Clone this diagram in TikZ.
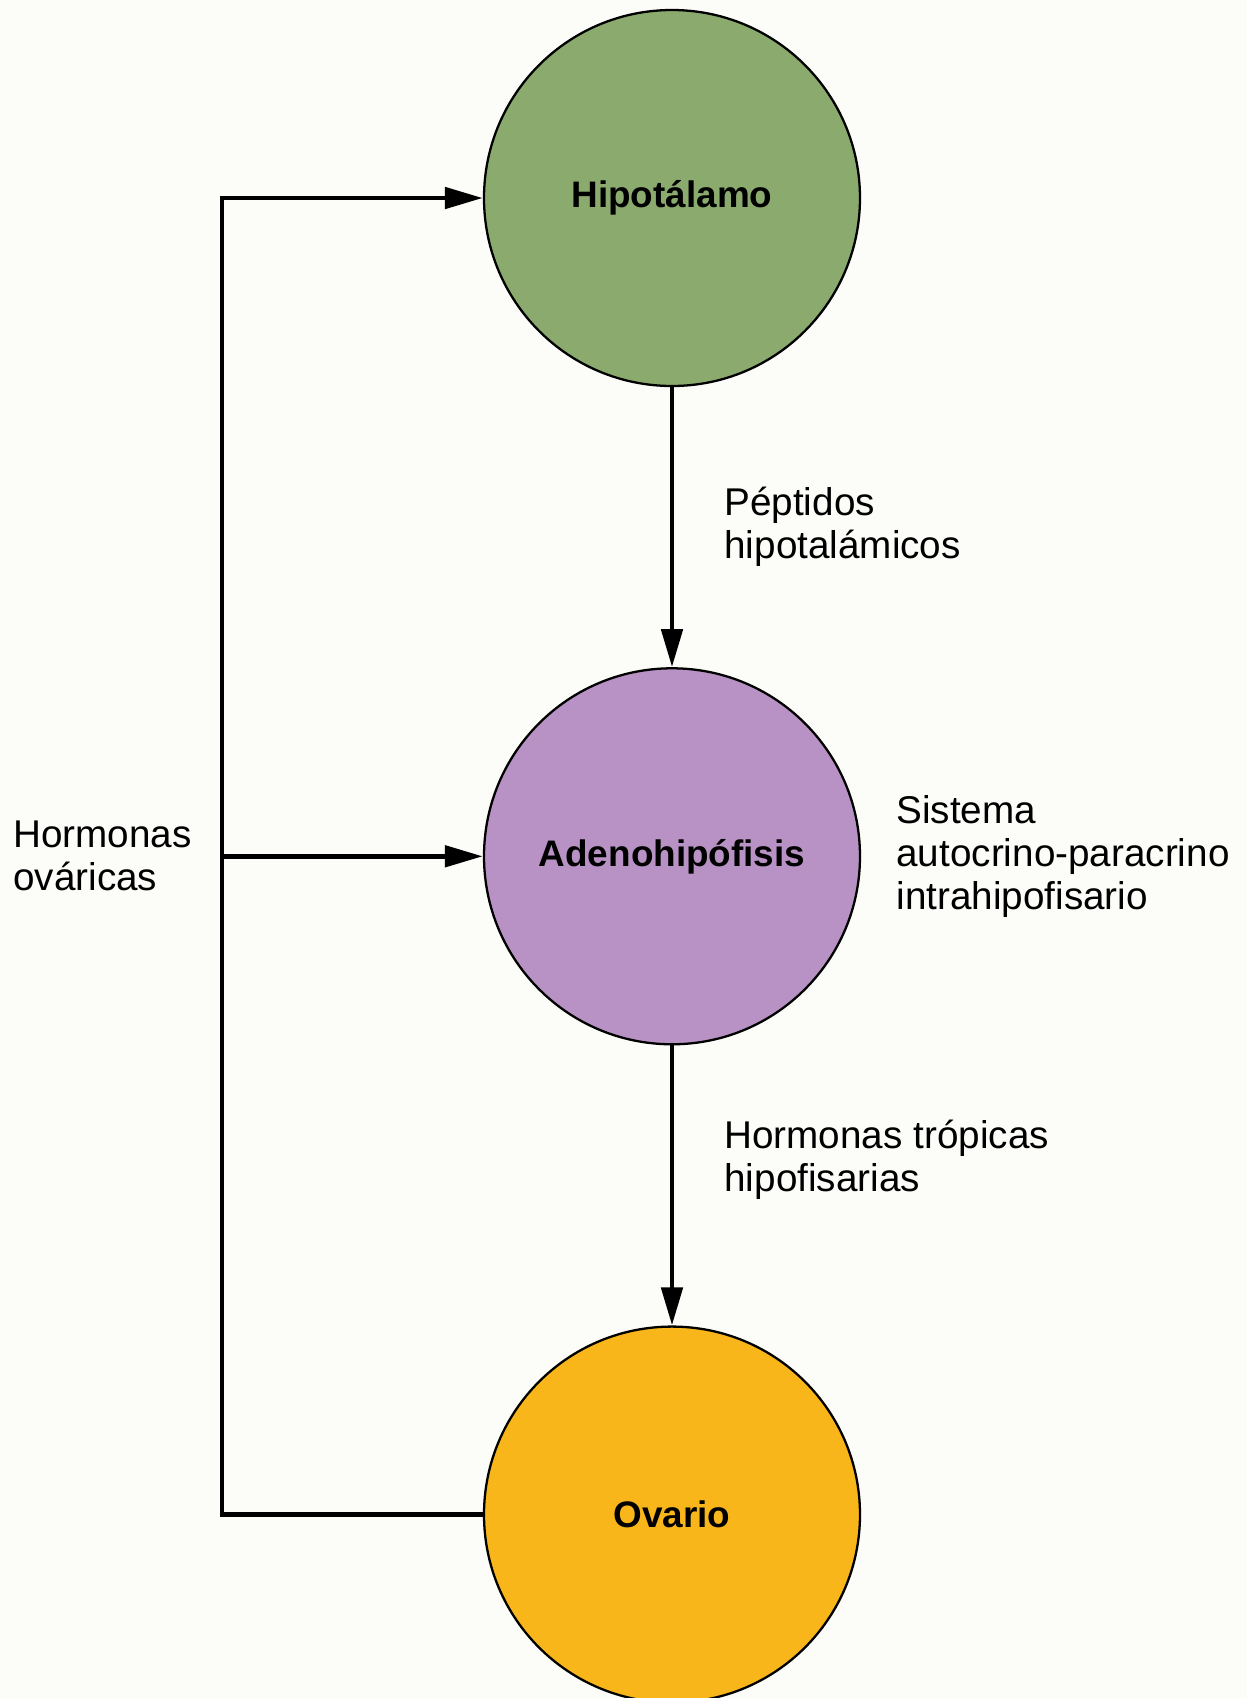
\documentclass[tikz,border=0pt]{standalone}
\usepackage{fontspec}
\setmainfont{Liberation Sans}
\usepackage{xcolor}
\usetikzlibrary{arrows.meta, positioning}

\definecolor{hipgreen}{RGB}{139,170,110}
\definecolor{adenopurple}{RGB}{184,146,196}
\definecolor{ovaorange}{RGB}{248,182,26}
\definecolor{paper}{RGB}{252,252,249}

\begin{document}
\begin{tikzpicture}[
      font=\fontsize{22}{24.5}\selectfont,
      node distance=5.6cm,
      >={Triangle[length=7.6mm, width=4.2mm]},
      organ/.style={
        circle,
        draw,
        line width=1.3pt,
        minimum size=7.52cm,
        inner sep=0pt,
        font=\fontsize{21}{24}\selectfont\bfseries
      },
      lbl/.style={align=left, inner sep=0pt},
      link/.style={line width=2.8pt}
    ]
    \useasboundingbox (0,0) rectangle (24.94,-33.96);
    \fill[paper] (0,0) rectangle (24.94,-33.96);
    \node[organ, fill=hipgreen] (hip) at (13.44,-3.96) {Hipotálamo};
    \node[organ, fill=adenopurple, below=of hip] (adeno) {Adenohipófisis};
    \node[organ, fill=ovaorange, below=of adeno] (ova) {Ovario};
    \coordinate (fbx) at (4.44,0);
    \coordinate (lft) at (0.26,0);
    \node[lbl, right=7mm of adeno] (paracr) {Sistema\\autocrino-paracrino\\intrahipofisario};
    \node[lbl, anchor=west] (ovh) at (adeno.west -| lft) {Hormonas\\ováricas};
    \draw[link, ->] (hip) -- node[lbl, right=10mm] {Péptidos\\hipotalámicos} (adeno);
    \draw[link, ->] (adeno) -- node[lbl, pos=0.41, right=10mm] {Hormonas trópicas\\hipofisarias} (ova);
    \draw[link, ->] (ova.west) -- (ova.west -| fbx) |- (hip.west);
    \draw[link, ->] (adeno.west -| fbx) -- (adeno.west);
  \end{tikzpicture}
\end{document}
